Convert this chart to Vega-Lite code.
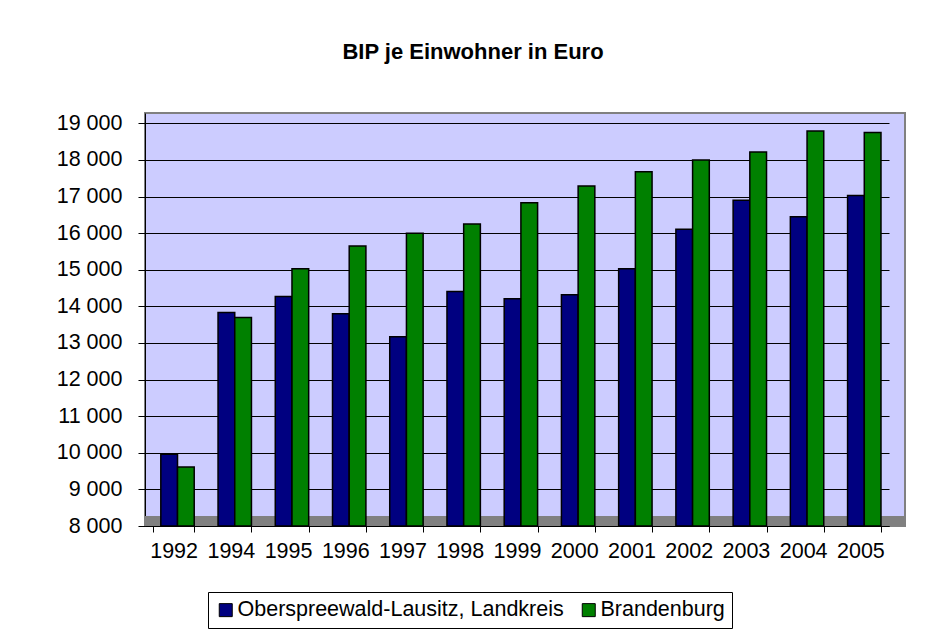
{
  "$schema": "https://vega.github.io/schema/vega-lite/v6.json",
  "autosize": {"type": "none"},
  "width": 760,
  "height": 413,
  "padding": {"left": 145, "top": 113, "right": 20, "bottom": 113},
  "background": "white",
  "title": {
    "text": "BIP je Einwohner in Euro",
    "font": "Liberation Sans",
    "fontSize": 22,
    "fontWeight": "bold",
    "color": "#000000",
    "anchor": "middle",
    "frame": "group",
    "baseline": "alphabetic",
    "offset": 31,
    "dx": -52
  },
  "config": {
    "view": {"fill": "#CCCCFF", "stroke": "#808080", "strokeWidth": 2},
    "font": "Liberation Sans",
    "axisY": {
      "values": [8000, 9000, 10000, 11000, 12000, 13000, 14000, 15000, 16000, 17000, 18000, 19000],
      "labelExpr": "replace(format(datum.value, ',d'), ',', ' ')",
      "labelFont": "Liberation Sans",
      "labelFontSize": 21.5,
      "labelColor": "#000000",
      "labelPadding": 16,
      "domainColor": "#000000",
      "tickColor": "#000000",
      "tickSize": 7,
      "grid": true,
      "gridColor": "#000000",
      "gridWidth": 1,
      "gridOpacity": 1,
      "title": null
    },
    "axisX": {
      "labelAngle": 0,
      "labelFont": "Liberation Sans",
      "labelFontSize": 21.5,
      "labelColor": "#000000",
      "labelPadding": 8,
      "domainColor": "#000000",
      "domainWidth": 1,
      "tickColor": "#000000",
      "tickSize": 6,
      "tickBand": "extent",
      "grid": false,
      "title": null
    }
  },
  "data": {
    "values": [
      {"year": "1992", "series": "Oberspreewald-Lausitz, Landkreis", "value": 9960},
      {"year": "1992", "series": "Brandenburg", "value": 9610},
      {"year": "1994", "series": "Oberspreewald-Lausitz, Landkreis", "value": 13830},
      {"year": "1994", "series": "Brandenburg", "value": 13700},
      {"year": "1995", "series": "Oberspreewald-Lausitz, Landkreis", "value": 14270},
      {"year": "1995", "series": "Brandenburg", "value": 15030},
      {"year": "1996", "series": "Oberspreewald-Lausitz, Landkreis", "value": 13800},
      {"year": "1996", "series": "Brandenburg", "value": 15650},
      {"year": "1997", "series": "Oberspreewald-Lausitz, Landkreis", "value": 13170},
      {"year": "1997", "series": "Brandenburg", "value": 16000},
      {"year": "1998", "series": "Oberspreewald-Lausitz, Landkreis", "value": 14410},
      {"year": "1998", "series": "Brandenburg", "value": 16250},
      {"year": "1999", "series": "Oberspreewald-Lausitz, Landkreis", "value": 14210},
      {"year": "1999", "series": "Brandenburg", "value": 16830},
      {"year": "2000", "series": "Oberspreewald-Lausitz, Landkreis", "value": 14320},
      {"year": "2000", "series": "Brandenburg", "value": 17290},
      {"year": "2001", "series": "Oberspreewald-Lausitz, Landkreis", "value": 15030},
      {"year": "2001", "series": "Brandenburg", "value": 17680},
      {"year": "2002", "series": "Oberspreewald-Lausitz, Landkreis", "value": 16110},
      {"year": "2002", "series": "Brandenburg", "value": 18000},
      {"year": "2003", "series": "Oberspreewald-Lausitz, Landkreis", "value": 16900},
      {"year": "2003", "series": "Brandenburg", "value": 18220},
      {"year": "2004", "series": "Oberspreewald-Lausitz, Landkreis", "value": 16450},
      {"year": "2004", "series": "Brandenburg", "value": 18790},
      {"year": "2005", "series": "Oberspreewald-Lausitz, Landkreis", "value": 17030},
      {"year": "2005", "series": "Brandenburg", "value": 18750}
    ]
  },
  "layer": [
    {
      "mark": {"type": "rect", "fill": "#808080"},
      "encoding": {
        "y": {"datum": 8000, "type": "quantitative", "scale": {"domain": [8000, 19284], "nice": false, "zero": false}},
        "y2": {"datum": 8273}
      }
    },
    {
      "mark": {"type": "bar", "stroke": "#000000", "strokeWidth": 1.5},
      "encoding": {
        "x": {
          "field": "year",
          "type": "nominal",
          "sort": null,
          "scale": {"range": [0, 744], "paddingInner": 0.28, "paddingOuter": 0.14}
        },
        "xOffset": {
          "field": "series",
          "type": "nominal",
          "sort": ["Oberspreewald-Lausitz, Landkreis", "Brandenburg"],
          "scale": {"paddingInner": 0, "paddingOuter": 0.2335, "align": 1}
        },
        "y": {
          "field": "value",
          "type": "quantitative",
          "scale": {"domain": [8000, 19284], "nice": false, "zero": false}
        },
        "y2": {"datum": 8000},
        "color": {
          "field": "series",
          "type": "nominal",
          "sort": ["Oberspreewald-Lausitz, Landkreis", "Brandenburg"],
          "scale": {"domain": ["Oberspreewald-Lausitz, Landkreis", "Brandenburg"], "range": ["#000080", "#008000"]},
          "legend": {
            "title": null,
            "orient": "none",
            "legendX": 63,
            "legendY": 479,
            "direction": "horizontal",
            "columns": 2,
            "columnPadding": 14,
            "padding": 7,
            "strokeColor": "#000000",
            "fillColor": "#FFFFFF",
            "symbolType": "square",
            "symbolSize": 169,
            "symbolStrokeColor": "#000000",
            "symbolStrokeWidth": 1,
            "symbolOpacity": 1,
            "labelFont": "Liberation Sans",
            "labelFontSize": 21.5,
            "labelColor": "#000000",
            "labelOffset": 1,
            "labelLimit": 0
          }
        }
      }
    }
  ]
}
